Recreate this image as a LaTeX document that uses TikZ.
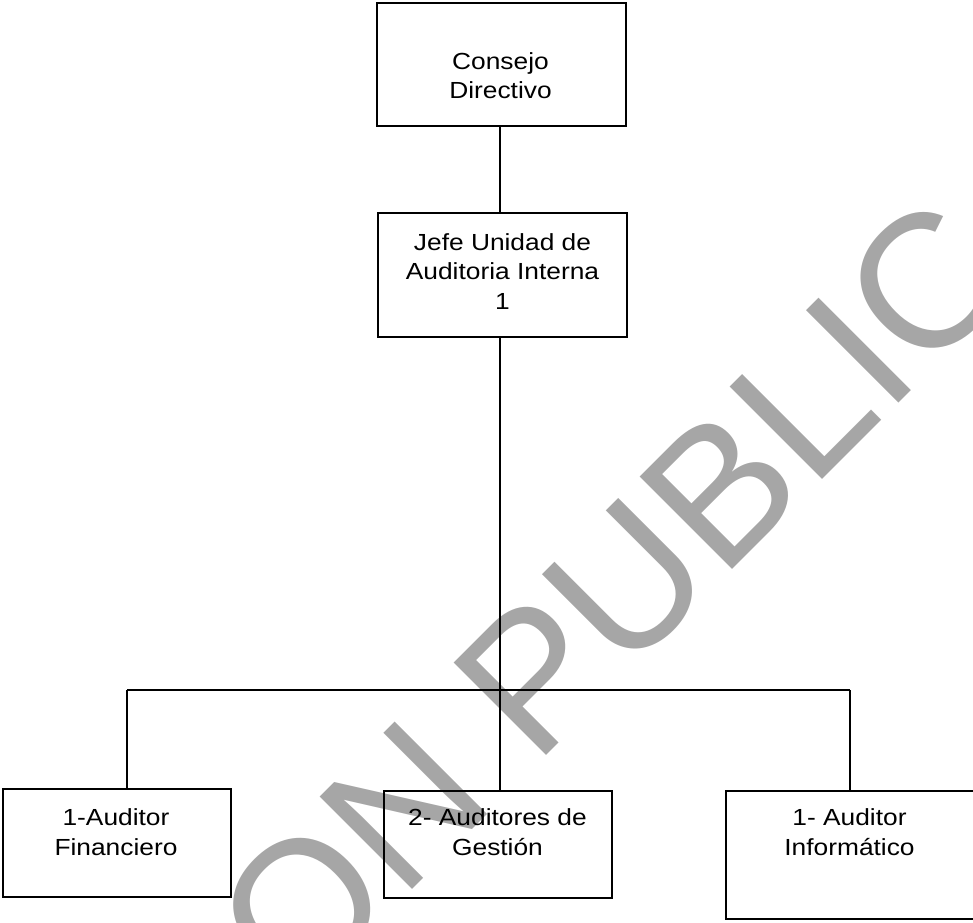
\documentclass[tikz,border=0pt]{standalone}
\usepackage{fontspec}
\setmainfont{Liberation Sans}[FakeStretch=1.13]
\newfontfamily\wmfont{Liberation Sans}
\begin{document}
\begin{tikzpicture}[x=1pt,y=-1pt,
  box/.style={draw=black,line width=2.2pt,rectangle,inner sep=0pt},
  lbl/.style={align=center,inner sep=0pt,anchor=base,
    font={\fontsize{23.3pt}{29.5pt}\selectfont}},
  wire/.style={draw=black,line width=2pt},
  wm/.style={text={rgb,255:red,166;green,166;blue,166},inner sep=0pt,
    font={\wmfont\fontsize{190pt}{200pt}\selectfont}}]
\useasboundingbox (0,0) rectangle (973,922);
\clip (0,0) rectangle (973,922);
\node[wm,rotate=45,anchor=base west] (wmk) at (199.5,1102.5) {NON PUBLIC};
% boxes
\node[box,minimum width=249pt,minimum height=123pt] (cd) at (501.5,64.5) {};
\node[box,minimum width=249pt,minimum height=124pt] (jefe) at (502.5,275) {};
\node[box,minimum width=228pt,minimum height=108pt] (af) at (117,843) {};
\node[box,minimum width=228pt,minimum height=107pt] (ag) at (498,844.5) {};
\node[box,minimum width=252pt,minimum height=128pt] (ai) at (852,855) {};
% texts (anchor = baseline of the last line)
\node[lbl] (cdt) at (500.5,98.5) {Consejo\\Directivo};
\node[lbl] (jt) at (502.5,309) {Jefe Unidad de\\Auditoria Interna\\1};
\node[lbl] (aft) at (116,855) {1-Auditor\\Financiero};
\node[lbl] (agt) at (497.5,855) {2- Auditores de\\Gestión};
\node[lbl] (ait) at (849.5,855) {1- Auditor\\Informático};
% connectors
\coordinate (bus) at (499.5,690);
\coordinate (busL) at (127,690);
\coordinate (busR) at (850,690);
\draw[wire] (bus |- cd.south) -- (bus |- jefe.north);
\draw[wire] (bus |- jefe.south) -- (bus);
\draw[wire] (busL) -- (busR);
\draw[wire] (busL) -- (busL |- af.north);
\draw[wire] (bus) -- (bus |- ag.north);
\draw[wire] (busR) -- (busR |- ai.north);
\end{tikzpicture}
\end{document}
